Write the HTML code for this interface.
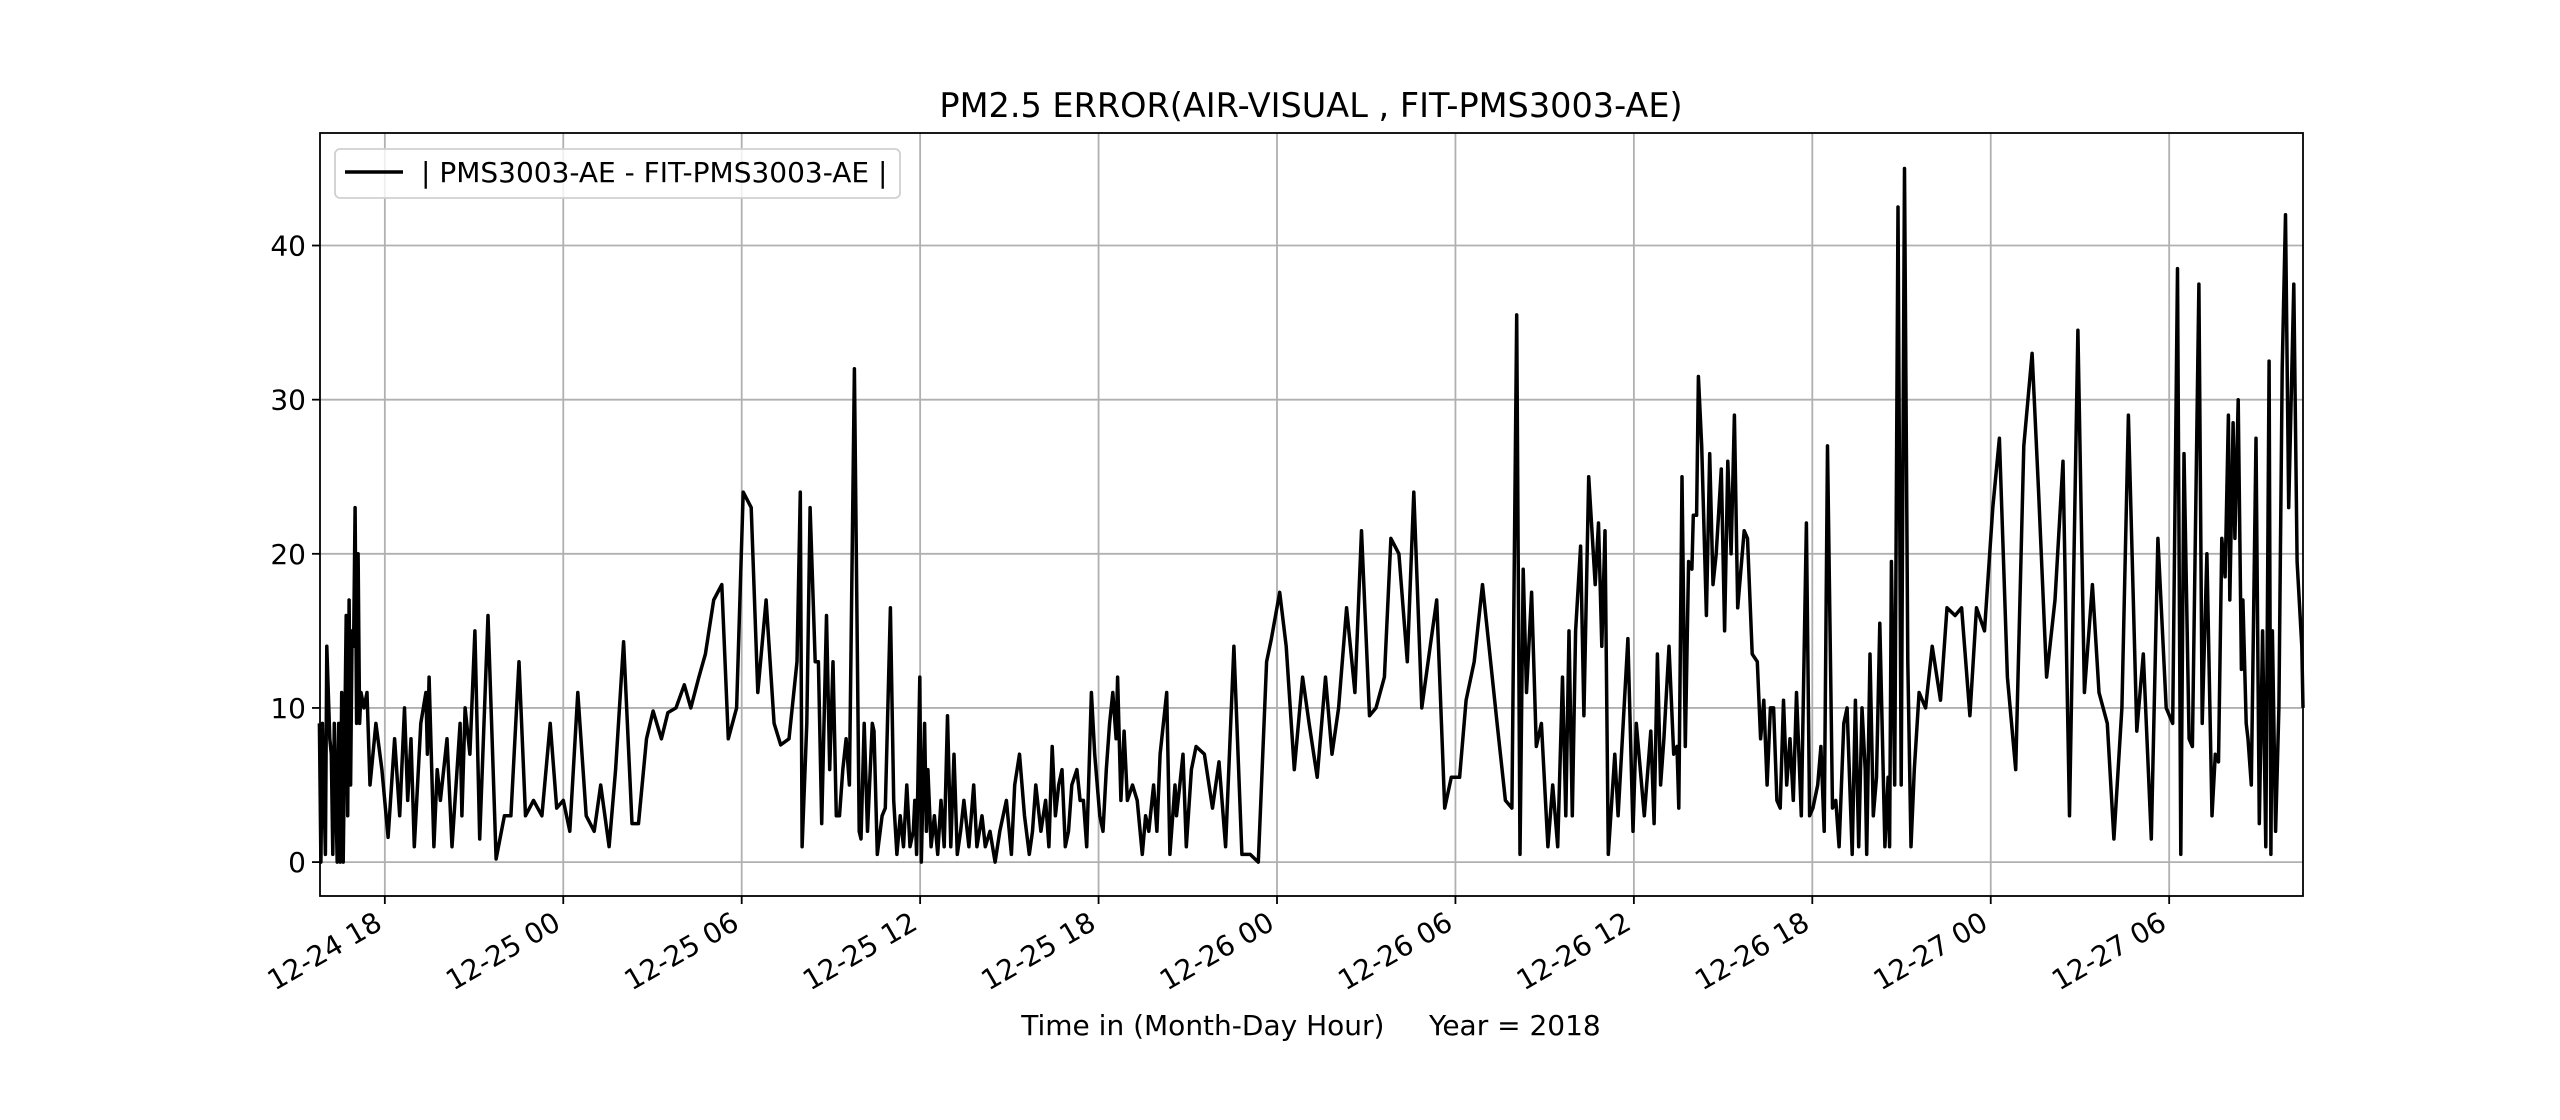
<!DOCTYPE html>
<html><head><meta charset="utf-8"><style>
html,body{margin:0;padding:0;background:#fff;}
svg{display:block;font-family:"DejaVu Sans","Liberation Sans",sans-serif;}
</style></head><body>
<svg id="chart" width="2560" height="1120" viewBox="0 0 2560 1120">
<rect x="0" y="0" width="2560" height="1120" fill="#fff"/>
<g id="grid"></g>
<g id="series"></g>
<rect x="320" y="133" width="1983" height="763" fill="none" stroke="#000" stroke-width="1.8"/>
<g id="ticks"></g>
<text x="1311" y="117" font-size="33.5" text-anchor="middle">PM2.5 ERROR(AIR-VISUAL , FIT-PMS3003-AE)</text>
<text x="1311" y="1035" font-size="28" text-anchor="middle" xml:space="preserve">Time in (Month-Day Hour)     Year = 2018</text>
<g>
<rect x="335" y="149" width="565" height="49" rx="5" fill="#fff" fill-opacity="0.8" stroke="#d0d0d0" stroke-width="1.8"/>
<line x1="345" y1="172" x2="403" y2="172" stroke="#000" stroke-width="3.5"/>
<text x="421" y="182" font-size="28">| PMS3003-AE - FIT-PMS3003-AE |</text>
</g>
</svg>
<script>
// hours since 12-24 18:00
const times = [-2.2,-2.15,-2.1,-2.0,-1.95,-1.85,-1.8,-1.75,-1.7,-1.6,-1.55,-1.5,-1.45,-1.4,-1.3,-1.25,-1.2,-1.15,-1.1,-1.05,-1.0,-0.95,-0.9,-0.85,-0.8,-0.7,-0.6,-0.5,-0.3,-0.1,
0.11,0.33,0.5,0.66,0.77,0.88,0.99,1.21,1.38,1.43,1.49,1.65,1.76,1.87,2.09,2.26,2.53,2.59,2.7,2.86,3.03,3.19,3.47,3.74,4.02,4.24,4.51,4.73,5.0,5.28,5.56,5.78,6.0,6.22,6.49,6.77,7.04,7.26,7.54,7.76,8.03,8.31,8.53,8.8,9.02,9.3,9.52,9.79,10.07,10.29,10.56,10.78,11.06,11.33,11.55,11.83,12.05,12.32,12.54,12.82,13.09,13.31,13.59,13.86,13.97,14.03,14.19,14.3,14.47,14.58,14.69,14.85,14.96,15.07,15.18,15.29,15.4,15.51,15.62,15.79,15.95,16.01,16.12,16.23,16.39,16.45,16.56,16.72,16.83,17.0,17.11,17.22,17.33,17.44,17.55,17.66,17.77,17.82,17.88,17.99,18.04,18.15,18.21,18.26,18.37,18.48,18.59,18.7,18.81,18.92,19.03,19.14,19.25,19.36,19.47,19.64,19.8,19.91,20.08,20.19,20.35,20.52,20.68,20.9,21.07,21.18,21.34,21.51,21.67,21.78,21.89,22.06,22.22,22.33,22.44,22.55,22.66,22.77,22.88,22.99,23.1,23.27,23.38,23.49,23.6,23.76,23.87,24.04,24.15,24.26,24.37,24.48,24.59,24.64,24.75,24.86,24.97,25.14,25.3,25.47,25.58,25.69,25.85,25.96,26.07,26.29,26.4,26.57,26.62,26.73,26.84,26.95,27.12,27.28,27.56,27.83,28.05,28.27,28.55,28.82,29.1,29.37,29.65,29.81,30.09,30.31,30.58,30.86,31.08,31.35,31.63,31.85,32.07,32.34,32.62,32.84,33.11,33.33,33.61,33.83,34.1,34.38,34.6,34.87,35.15,35.37,35.64,35.86,36.14,36.36,36.63,36.91,37.13,37.4,37.68,37.9,38.06,38.17,38.28,38.39,38.56,38.72,38.89,39.11,39.27,39.44,39.6,39.71,39.82,39.93,40.04,40.21,40.32,40.48,40.7,40.81,40.92,41.03,41.14,41.36,41.47,41.8,41.97,42.08,42.35,42.57,42.68,42.79,42.9,43.01,43.18,43.34,43.45,43.51,43.62,43.73,43.84,43.95,44.0,44.11,44.17,44.28,44.44,44.55,44.66,44.77,44.94,45.05,45.16,45.27,45.38,45.49,45.71,45.82,45.98,46.15,46.26,46.37,46.48,46.59,46.7,46.81,46.92,47.03,47.14,47.25,47.36,47.47,47.63,47.8,47.91,48.02,48.18,48.29,48.4,48.51,48.68,48.79,48.9,49.06,49.17,49.34,49.45,49.56,49.67,49.78,49.83,49.94,50.05,50.16,50.27,50.44,50.55,50.6,50.66,50.77,50.88,50.99,51.1,51.21,51.32,51.43,51.59,51.81,52.03,52.31,52.53,52.8,53.02,53.3,53.52,53.79,54.07,54.29,54.56,54.84,55.11,55.39,55.61,55.88,56.16,56.43,56.65,56.93,57.15,57.42,57.64,57.92,58.14,58.41,58.63,58.91,59.13,59.4,59.62,59.9,60.12,60.28,60.39,60.5,60.67,60.78,61.0,61.11,61.27,61.44,61.55,61.66,61.77,61.88,61.99,62.04,62.15,62.21,62.32,62.43,62.48,62.59,62.65,62.76,62.92,63.03,63.14,63.25,63.36,63.42,63.47,63.58,63.69,63.8,63.91,64.02,64.19,64.3,64.46,64.5];
const errors = [9,0,9,0.5,14,8,7,0.5,9,0,9,0,11,0,16,3,17,5,15,14,23,9,20,9,11,10,11,5,9,6,
1.6,8,3,10,4,8,1,9,11,7,12,1,6,4,8,1,9,3,10,7,15,1.5,16,0.2,3,3,13,3,4,3,9,3.5,4,2,11,3,2,5,1,6,14.3,2.5,2.5,8,9.8,8,9.7,10,11.5,10,12,13.5,17,18,8,10,24,23,11,17,9,7.6,8,13,24,1,9,23,13,13,2.5,16,6,13,3,3,6,8,5,32,2,1.5,9,2,9,8.5,0.5,3,3.5,16.5,4,0.5,3,1,5,1,2,4,0.5,12,0,9,2,6,1,3,0.5,4,1,9.5,1,7,0.5,2,4,1,5,1,3,1,2,0,2,4,0.5,5,7,3,0.5,2,5,2,4,1,7.5,3,5,6,1,2,5,6,4,4,1,11,7,3,2,6,9,11,8,12,4,8.5,4,5,4,0.5,3,2,5,2,7,11,0.5,5,3,5,7,1,6,7.5,7,3.5,6.5,1,14,0.5,0.5,0,13,14.5,17.5,14,6,12,9,5.5,12,7,10,16.5,11,21.5,9.5,10,12,21,20,13,24,10,14,17,3.5,5.5,5.5,10.5,13,18,14,9,4,3.5,35.5,0.5,19,11,17.5,7.5,9,1,5,1,12,3,15,3,15,20.5,9.5,25,18,22,14,21.5,0.5,7,3,14.5,2,9,3,8.5,2.5,13.5,5,8,14,7,7.5,3.5,25,7.5,19.5,19,22.5,22.5,31.5,27,16,26.5,18,20,25.5,15,26,20,29,16.5,21.5,21,13.5,13,8,10.5,5,10,10,4,3.5,10.5,5,8,4,11,3,22,3,3.5,5,7.5,2,27,3.5,4,1,9,10,0.5,10.5,1,10,6,0.5,13.5,3,5.5,15.5,1,5.5,1,19.5,5,42.5,5,45,13,1,6,11,10,14,10.5,16.5,16,16.5,9.5,16.5,15,23,27.5,12,6,27,33,24,12,17,26,3,34.5,11,18,11,9,1.5,10,29,8.5,13.5,1.5,21,10,9,38.5,0.5,26.5,8,7.5,37.5,9,20,3,7,6.5,21,18.5,29,17,28.5,21,30,12.5,17,9,8,5,27.5,2.5,15,1,32.5,0.5,15,2,10,32,42,23,37.5,19.5,14,10];
const xTickHours = [0,6,12,18,24,30,36,42,48,54,60];
const xTickLabels = ["12-24 18","12-25 00","12-25 06","12-25 12","12-25 18","12-26 00","12-26 06","12-26 12","12-26 18","12-27 00","12-27 06"];
const yTickValues = [0,10,20,30,40];
const yTickLabels = ["0","10","20","30","40"];

const X0=320, X1=2303, Y0=896, Y1=133;
const xMin=-2.18, xMax=64.5, yMin=-2.2, yMax=47.3;
function xs(h){return X0+(h-xMin)/(xMax-xMin)*(X1-X0);}
function ys(v){return Y0-(v-yMin)/(yMax-yMin)*(Y0-Y1);}
const NS="http://www.w3.org/2000/svg";
const grid=document.getElementById('grid'), ticks=document.getElementById('ticks'), series=document.getElementById('series');
function mk(tag,attrs,parent){const e=document.createElementNS(NS,tag);for(const k in attrs)e.setAttribute(k,attrs[k]);parent.appendChild(e);return e;}

xTickHours.forEach((h,i)=>{
  const x=xs(h);
  const g=mk('line',{x1:x,y1:Y1,x2:x,y2:Y0,stroke:'#b0b0b0','stroke-width':1.8},grid);
  
  
  const t=mk('line',{x1:x,y1:Y0,x2:x,y2:Y0+8,stroke:'#000','stroke-width':1.8},ticks);
  
  
  const lx=x-1, ly=928;
  const tx=mk('text',{x:lx,y:ly,'font-size':28,'text-anchor':'end',transform:`rotate(-30 ${lx} ${ly})`},ticks);
  tx.textContent=xTickLabels[i];
  
  
});
yTickValues.forEach((v,i)=>{
  const y=ys(v);
  const g=mk('line',{x1:X0,y1:y,x2:X1,y2:y,stroke:'#b0b0b0','stroke-width':1.8},grid);
  
  
  const t=mk('line',{x1:X0-8,y1:y,x2:X0,y2:y,stroke:'#000','stroke-width':1.8},ticks);
  
  
  const tx=mk('text',{x:X0-14,y:y+10,'font-size':28,'text-anchor':'end'},ticks);
  tx.textContent=yTickLabels[i];
  
  
});
const n=Math.min(times.length,errors.length);
let d='';
for(let i=0;i<n;i++){d+=(i?'L':'M')+xs(times[i]).toFixed(1)+','+ys(errors[i]).toFixed(1);}
const p=mk('path',{d:d,fill:'none',stroke:'#000','stroke-width':3.5,'stroke-linejoin':'round'},series);


</script>
</body></html>
